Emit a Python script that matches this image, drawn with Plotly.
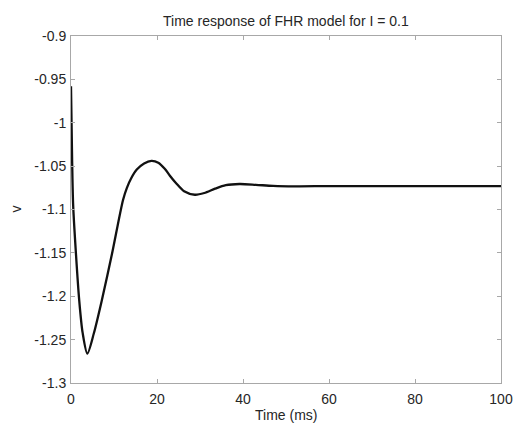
"""
FHR model time response (I = 0.1)
"""
import plotly.graph_objects as go

# time (ms) and membrane variable v
t_ms = [0, 0.25, 0.5, 1.1, 1.9, 2.7, 3.8, 5.3, 7.2, 9.5, 12.1, 13.0, 14.0, 15.3,
        17.0, 18.7, 20.3, 21.8, 23.0, 24.5, 26.3, 28.8, 31.0, 33.5, 36.0, 39.2,
        43, 47, 52, 60, 70, 80, 90, 100]
v = [-0.958, -1.040, -1.095, -1.147, -1.204, -1.242, -1.266, -1.243, -1.204,
     -1.152, -1.089, -1.075, -1.064, -1.054, -1.047, -1.044, -1.046, -1.053,
     -1.061, -1.070, -1.079, -1.083, -1.081, -1.076, -1.072, -1.0706, -1.0715,
     -1.0728, -1.0733, -1.073, -1.073, -1.073, -1.073, -1.073]

x_ticks = [0, 20, 40, 60, 80, 100]
y_ticks = [-0.9, -0.95, -1, -1.05, -1.1, -1.15, -1.2, -1.25, -1.3]
y_ticktext = ["-0.9", "-0.95", "-1", "-1.05", "-1.1", "-1.15", "-1.2", "-1.25", "-1.3"]

title = "Time response of FHR model for I = 0.1"
FONT = "Liberation Sans, Arial, sans-serif"
AXCOL = "#a8a8a8"
TXT = "#262626"

fig = go.Figure()
fig.add_trace(
    go.Scatter(
        x=t_ms,
        y=v,
        mode="lines",
        line=dict(color="#111111", width=2.3, shape="spline", smoothing=0.8),
        showlegend=False,
    )
)

axis_common = dict(
    showline=True,
    linecolor=AXCOL,
    linewidth=1,
    mirror="ticks",
    ticks="inside",
    ticklen=4,
    tickcolor=AXCOL,
    showgrid=False,
    zeroline=False,
    tickfont=dict(family=FONT, size=14, color=TXT),
)

fig.update_xaxes(range=[0, 100], tickvals=x_ticks, ticklabelstandoff=3, **axis_common)
fig.update_yaxes(range=[-1.3, -0.9], tickvals=y_ticks, ticktext=y_ticktext,
                 ticklabelstandoff=1, **axis_common)

# page body has an 8px margin, so the figure is a bit smaller than the window
fig.update_layout(
    width=517,
    height=416,
    margin=dict(l=63, r=15, t=28, b=41),
    paper_bgcolor="white",
    plot_bgcolor="white",
    annotations=[
        dict(text=title, xref="paper", yref="paper", x=0.5, y=1, yshift=15,
             yanchor="middle", showarrow=False,
             font=dict(family=FONT, size=14, color=TXT)),
        dict(text="Time (ms)", xref="paper", yref="paper", x=0.5, y=0, yshift=-32,
             yanchor="middle", showarrow=False,
             font=dict(family=FONT, size=14, color=TXT)),
        dict(text="v", xref="paper", yref="paper", x=0, xshift=-56, y=0.5,
             xanchor="center", yanchor="middle", textangle=-90, showarrow=False,
             font=dict(family=FONT, size=14, color=TXT)),
    ],
)

fig.write_html("out.html")
